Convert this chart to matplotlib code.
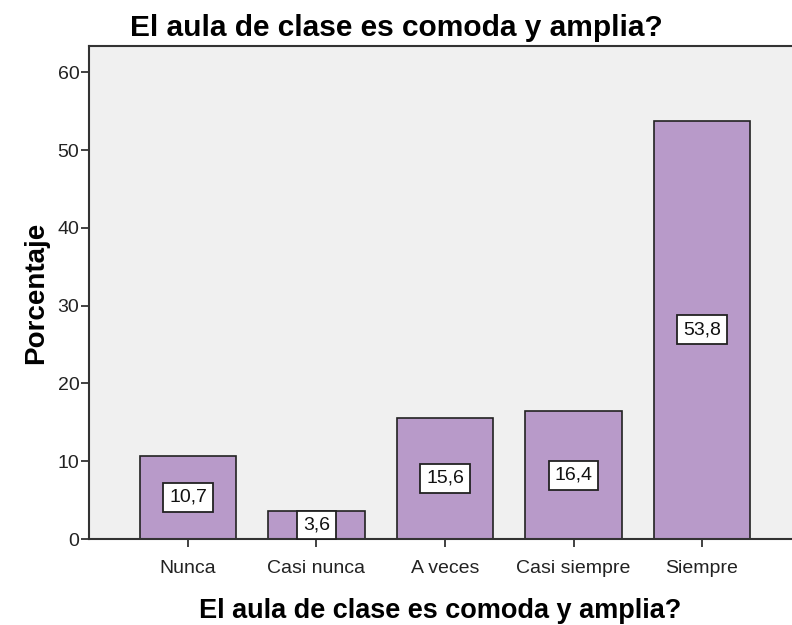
import matplotlib
matplotlib.use("Agg")
import matplotlib.pyplot as plt
import numpy as np

# data
categorias = ["Nunca", "Casi nunca", "A veces", "Casi siempre", "Siempre"]
porcentajes = [10.7, 3.6, 15.6, 16.4, 53.8]
etiquetas = ["10,7", "3,6", "15,6", "16,4", "53,8"]
y_ticks = [0, 10, 20, 30, 40, 50, 60]

titulo = "El aula de clase es comoda y amplia?"

plt.rcParams['font.family'] = ['Liberation Sans', 'DejaVu Sans']

fig = plt.figure(figsize=(7.92, 6.25), dpi=100)
ax = fig.add_axes([0.1124, 0.1376, 0.8876, 0.7888])
ax.set_facecolor("#F0F0F0")

x = np.arange(len(categorias))
ax.bar(x, porcentajes, width=0.75, color="#B89AC9", edgecolor="#222222", linewidth=1.2)

for xi, v, lab in zip(x, porcentajes, etiquetas):
  ax.text(xi, v / 2, lab, ha="center", va="center", fontsize=14, color="#111111",
          bbox=dict(boxstyle="square,pad=0.3", facecolor="white", edgecolor="#222222", linewidth=1.3))

ax.set_xlim(-0.77, 4.7)
ax.set_ylim(0, 63.4)
ax.set_yticks(y_ticks)
ax.set_xticks(x)
ax.set_xticklabels(categorias)
ax.tick_params(axis="both", direction="out", length=6, width=1.3, color="#333333",
               labelsize=14, labelcolor="#222222")
ax.tick_params(axis="x", pad=9)
ax.tick_params(axis="y", pad=1)

for s in ("left", "bottom", "top"):
  ax.spines[s].set_color("#333333")
  ax.spines[s].set_linewidth(1.5)
ax.spines["right"].set_visible(False)

ax.set_ylabel("Porcentaje", fontsize=20, fontweight="bold", labelpad=6)
ax.set_xlabel(titulo, fontsize=19.5, fontweight="bold", labelpad=15)
fig.text(0.5, 0.955, titulo, ha="center", va="center", fontsize=21.5, fontweight="bold")

plt.savefig("out.png", dpi=100)
